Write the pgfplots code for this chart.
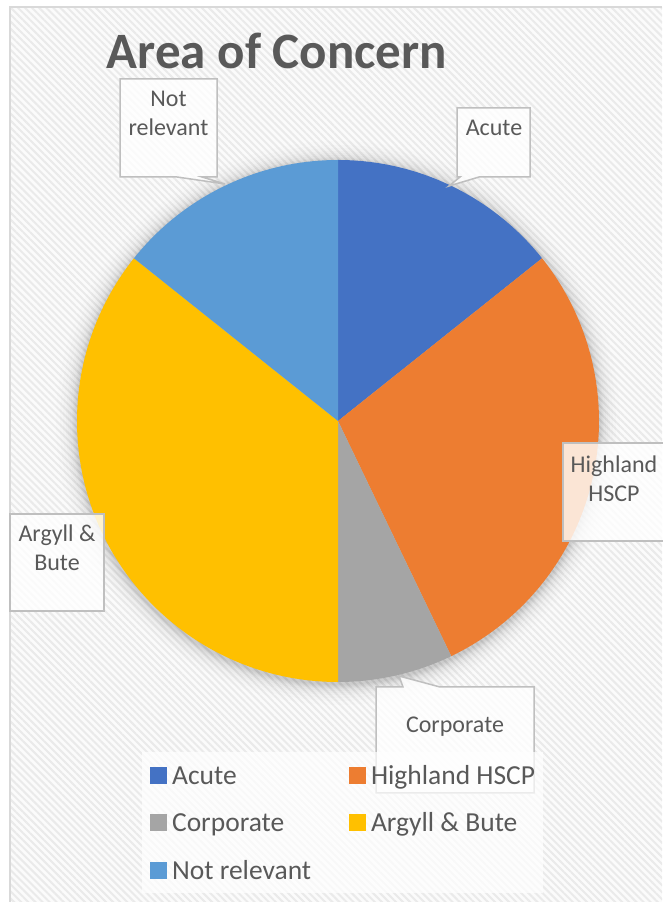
\documentclass[border=0pt]{standalone}
\usepackage{pgfplots}
\pgfplotsset{compat=1.18}
\usepackage{pgfplotstable}
\usepackage{fontspec}
\setmainfont{Carlito}
\usetikzlibrary{patterns.meta}
\definecolor{acute}{HTML}{4472C4}
\definecolor{highland}{HTML}{ED7D31}
\definecolor{corporate}{HTML}{A5A5A5}
\definecolor{argyll}{HTML}{FFC000}
\definecolor{notrel}{HTML}{5B9BD5}
\definecolor{txt}{HTML}{595959}
\definecolor{callline}{HTML}{BFBFBF}
\definecolor{frameline}{HTML}{D9D9D9}
\definecolor{bgbase}{HTML}{FBFBFB}
\definecolor{bgline}{HTML}{EAEAEA}

\pgfplotstableread{
id value
1 2
2 4
3 1
4 5
5 2
}\piedata

\begin{document}
\begin{tikzpicture}
\pgfplotstablegetelem{0}{value}\of\piedata\edef\vA{\pgfplotsretval}
\pgfplotstablegetelem{1}{value}\of\piedata\edef\vB{\pgfplotsretval}
\pgfplotstablegetelem{2}{value}\of\piedata\edef\vC{\pgfplotsretval}
\pgfplotstablegetelem{3}{value}\of\piedata\edef\vD{\pgfplotsretval}
\pgfplotstablegetelem{4}{value}\of\piedata\edef\vE{\pgfplotsretval}
\pgfmathsetmacro\tot{\vA+\vB+\vC+\vD+\vE}
\pgfmathsetmacro\aA{90}
\pgfmathsetmacro\aB{\aA-360*\vA/\tot}
\pgfmathsetmacro\aC{\aB-360*\vB/\tot}
\pgfmathsetmacro\aD{\aC-360*\vC/\tot}
\pgfmathsetmacro\aE{\aD-360*\vD/\tot}
\pgfmathsetmacro\aF{\aE-360*\vE/\tot}
\begin{axis}[
  width=662pt, height=902pt, scale only axis,
  xmin=0, xmax=662, ymin=0, ymax=902,
  hide axis, clip=false,
  title={Area of Concern},
  title style={at={(0.4184,0.9169)}, anchor=base, inner sep=0pt,
    font=\fontsize{51}{60}\selectfont\bfseries, text=txt},
  legend columns=2,
  legend style={
    at={(0.2145,0.1663)}, anchor=north west,
    draw=none, fill=white, fill opacity=0.7, text opacity=1,
    inner xsep=8pt, inner ysep=9pt,
    font=\fontsize{27.5}{33}\selectfont, text=txt,
    column sep=5.5pt, row sep=19.5pt,
    /tikz/every even column/.append style={column sep=38pt},
    cells={anchor=base west},
    nodes={inner sep=0pt, text height=23pt, text depth=5pt},
  },
]
% chart area background
\fill[bgbase] (10,0) rectangle (662,895);
\fill[pattern={Lines[angle=-45,distance=5pt,line width=2pt]}, pattern color=bgline] (10,0) rectangle (662,895);
\draw[frameline, line width=1.2pt] (10,0) -- (10,895) -- (662,895);
% pie shadow (soft halo)
\fill[black, opacity=0.02] (338,479) circle[radius=262pt];
\fill[black, opacity=0.02] (338,479) circle[radius=263pt];
\fill[black, opacity=0.02] (338,479) circle[radius=264pt];
\fill[black, opacity=0.02] (338,479) circle[radius=265pt];
\fill[black, opacity=0.02] (338,479) circle[radius=266pt];
\fill[black, opacity=0.018] (338,479) circle[radius=268pt];
\fill[black, opacity=0.016] (338,479) circle[radius=270pt];
\fill[black, opacity=0.014] (338,479) circle[radius=272pt];
\fill[black, opacity=0.012] (338,479) circle[radius=275pt];
\fill[black, opacity=0.01] (338,479) circle[radius=278pt];
\fill[black, opacity=0.008] (338,479) circle[radius=282pt];
% pie wedges
\fill[acute] (338,481) -- ++(\aA:261pt) arc[start angle=\aA, end angle=\aB, radius=261pt] -- cycle;
\fill[highland] (338,481) -- ++(\aB:261pt) arc[start angle=\aB, end angle=\aC, radius=261pt] -- cycle;
\fill[corporate] (338,481) -- ++(\aC:261pt) arc[start angle=\aC, end angle=\aD, radius=261pt] -- cycle;
\fill[argyll] (338,481) -- ++(\aD:261pt) arc[start angle=\aD, end angle=\aE, radius=261pt] -- cycle;
\fill[notrel] (338,481) -- ++(\aE:261pt) arc[start angle=\aE, end angle=\aF, radius=261pt] -- cycle;
% callouts
\draw[fill=white, fill opacity=0.8, draw=callline, draw opacity=1, line width=1.5pt] (120,725) -- (120,823) -- (217,823) -- (217,725) -- (202,725) -- (225,718) -- (177,725) -- cycle;
\node[font=\fontsize{24}{29.5}\selectfont, text=txt, align=center, inner sep=0pt] at (168.5,788.5) {Not\\relevant};
\draw[fill=white, fill opacity=0.8, draw=callline, draw opacity=1, line width=1.5pt] (457,725) -- (457,794) -- (530,794) -- (530,725) -- (479,725) -- (449,716) -- (460,725) -- cycle;
\node[font=\fontsize{24}{29.5}\selectfont, text=txt, align=center, inner sep=0pt] at (494,774) {Acute};
\draw[fill=white, fill opacity=0.8, draw=callline, draw opacity=1, line width=1.5pt] (563,361) -- (563,459) -- (664,459) -- (664,361) -- cycle;
\node[font=\fontsize{24}{29.5}\selectfont, text=txt, align=center, inner sep=0pt] at (614,423) {Highland\\HSCP};
\draw[fill=white, fill opacity=0.8, draw=callline, draw opacity=1, line width=1.5pt] (10,291) -- (10,388) -- (104,388) -- (104,291) -- cycle;
\node[font=\fontsize{24}{29.5}\selectfont, text=txt, align=center, inner sep=0pt] at (57,354) {Argyll \&\\Bute};
\draw[fill=white, fill opacity=0.8, draw=callline, draw opacity=1, line width=1.5pt] (376,109) -- (376,215) -- (403,215) -- (399,226) -- (440,215) -- (534,215) -- (534,109) -- cycle;
\node[font=\fontsize{24}{29.5}\selectfont, text=txt, align=center, inner sep=0pt] at (455,175) {Corporate};
% legend
\addlegendimage{legend image code/.code={\fill[acute, fill opacity=1] (0pt,1pt) rectangle (16pt,17pt);}}
\addlegendentry{Acute}
\addlegendimage{legend image code/.code={\fill[highland, fill opacity=1] (0pt,1pt) rectangle (16pt,17pt);}}
\addlegendentry{Highland HSCP}
\addlegendimage{legend image code/.code={\fill[corporate, fill opacity=1] (0pt,1pt) rectangle (16pt,17pt);}}
\addlegendentry{Corporate}
\addlegendimage{legend image code/.code={\fill[argyll, fill opacity=1] (0pt,1pt) rectangle (16pt,17pt);}}
\addlegendentry{Argyll \& Bute}
\addlegendimage{legend image code/.code={\fill[notrel, fill opacity=1] (0pt,1pt) rectangle (16pt,17pt);}}
\addlegendentry{Not relevant}
\end{axis}
\pgfresetboundingbox
\path (current axis.south west) rectangle (current axis.north east);
\end{tikzpicture}
\end{document}
